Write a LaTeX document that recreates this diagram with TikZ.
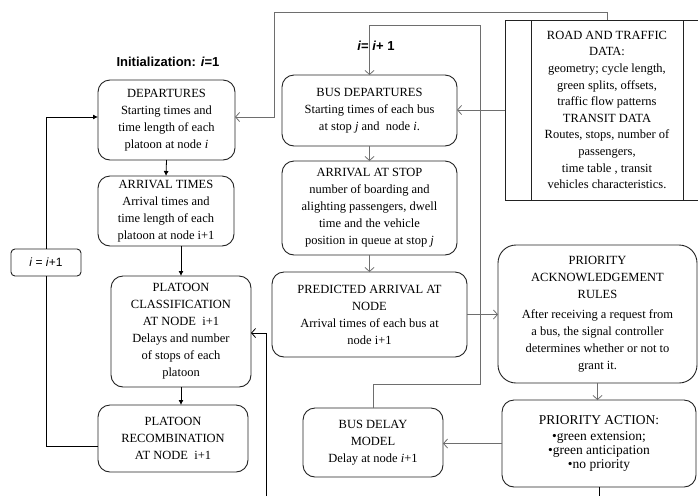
\documentclass[tikz,border=0pt]{standalone}
\usepackage{fontspec}
\setmainfont{Liberation Serif}
\setsansfont{Liberation Sans}
\usepackage{xcolor}
\usepackage{tikz}
\usetikzlibrary{arrows.meta, calc}
\definecolor{edge}{HTML}{222222}
\definecolor{wire}{HTML}{6E6E6E}

\begin{document}
\begin{tikzpicture}[
    x=1pt, y=-1pt,
    box/.style={draw=edge, line width=0.9pt, rounded corners=12pt, align=center, inner sep=2pt, outer sep=0pt, font=\fontsize{12.5}{17}\selectfont},
    tab/.style={draw=edge, line width=0.9pt, inner sep=0pt, outer sep=0pt},
    flow/.style={-{Latex[length=5pt,width=5pt]}, line width=0.8pt, draw=black},
    back/.style={-{Straight Barb[length=4pt,width=9pt]}, line width=0.8pt, draw=wire},
    wireline/.style={line width=0.8pt, draw=wire},
    label/.style={font=\sffamily\bfseries\fontsize{13}{15}\selectfont}
]
\useasboundingbox (0,0) rectangle (698,496);

% Platoon column
\node[label] (init) at (168,62) {Initialization: \textit{i}=1};
\node[box, minimum width=137pt, minimum height=80pt] (dep) at (166.5,120) {DEPARTURES\\Starting times and\\time length of each\\platoon at node \textit{i}};
\node[box, minimum width=136pt, minimum height=70pt] (arr) at (166,211) {ARRIVAL TIMES\\Arrival times and\\time length of each\\platoon at node i+1};
\node[box, minimum width=140pt, minimum height=111pt] (cls) at (181,331.5) {PLATOON\\CLASSIFICATION\\AT NODE~ i+1\\Delays and number\\of stops of each\\platoon};
\node[box, minimum width=150pt, minimum height=67pt] (rec) at (173,438.5) {PLATOON\\RECOMBINATION\\AT NODE~ i+1};
\node[draw=edge, line width=0.9pt, rounded corners=4pt, minimum width=70pt, minimum height=27pt, inner sep=0pt, font=\sffamily\fontsize{12}{14}\selectfont] (inc) at (46,262.5) {\textit{i} = \textit{i}+1};

% Bus column
\node[label] (iplus) at (376,46) {\textit{i}= \textit{i}+ 1};
\node[box, minimum width=175pt, minimum height=71pt] (busdep) at (369.5,110.5) {BUS DEPARTURES\\Starting times of each bus\\at stop \textit{j} and~ node \textit{i}.};
\node[box, minimum width=175pt, minimum height=94pt] (stop) at (369.5,208) {ARRIVAL AT STOP\\number of boarding and\\alighting passengers, dwell\\time and the vehicle\\position in queue at stop \textit{j}};
\node[box, minimum width=195pt, minimum height=85pt] (pred) at (369.5,314.5) {PREDICTED ARRIVAL AT\\NODE\\Arrival times of each bus at\\node i+1};
\node[box, minimum width=140pt, minimum height=69pt] (delay) at (373,442.5) {BUS DELAY\\MODEL\\Delay at node \textit{i}+1};

% Data table
\node[tab, minimum width=152pt, minimum height=180pt, align=center, font=\fontsize{12.5}{16.6}\selectfont] (road) at (607,110) {ROAD AND TRAFFIC\\DATA:\\geometry; cycle length,\\green splits, offsets,\\traffic flow patterns\\TRANSIT DATA\\Routes, stops, number of\\passengers,\\time table , transit\\vehicles characteristics.};
\node[tab, minimum width=26pt, minimum height=180pt] (roadcol) at (518,110) {};
\coordinate (roadend) at (698,0);
\draw[edge, line width=0.9pt] (road.north east) -- (road.north east -| roadend);
\draw[edge, line width=0.9pt] (road.south east) -- (road.south east -| roadend);

% Priority column
\node[box, rounded corners=18pt, minimum width=199pt, minimum height=138pt] (ack) at (597.5,314) {PRIORITY\\ACKNOWLEDGEMENT\\RULES\\[3pt]After receiving a request from\\a bus, the signal controller\\determines whether or not to\\grant it.};
\node[box, minimum width=194pt, minimum height=87pt, font=\fontsize{13.5}{13.8}\selectfont] (act) at (599,443.5) {PRIORITY ACTION:\\[2pt]•green extension;\\•green anticipation\\•no priority};

% Platoon flow
\draw[flow] (dep.south) -- (arr.north);
\draw[flow] (arr.south -| cls.north) -- (cls.north);
\draw[flow] (cls.south) -- (cls.south |- rec.north);
\draw[wireline, draw=black] ([yshift=-8pt]rec.west) -| (inc.south);
\draw[flow] (inc.north) |- ([yshift=3pt]dep.west);

% Bus flow
\draw[back] (busdep.south) -- (stop.north);
\draw[back] (stop.south) -- (pred.north);
\draw[back] (pred.east) -- (pred.east -| ack.west);
\draw[back] (ack.south) -- (ack.south |- act.north);
\draw[back] (act.west) -- (act.west -| delay.east);
\draw[back] (roadcol.west) -- (roadcol.west -| busdep.east);

% Loops
\coordinate (toploop) at (274,12);
\coordinate (iloop) at (480,25);
\draw[back] (road.north) |- (toploop) |- ([yshift=3pt]dep.east);
\draw[back] (delay.north) -- ++(0,-24) -| (iloop) -| (busdep.north);

% Open ends
\coordinate (actout) at (598,496);
\coordinate (clsin) at (266,496);
\draw[wireline, draw=black] (act.south) -- (act.south |- actout);
\draw[back, draw=black] (clsin) |- ([yshift=-1.5pt]cls.east);

\end{tikzpicture}
\end{document}
